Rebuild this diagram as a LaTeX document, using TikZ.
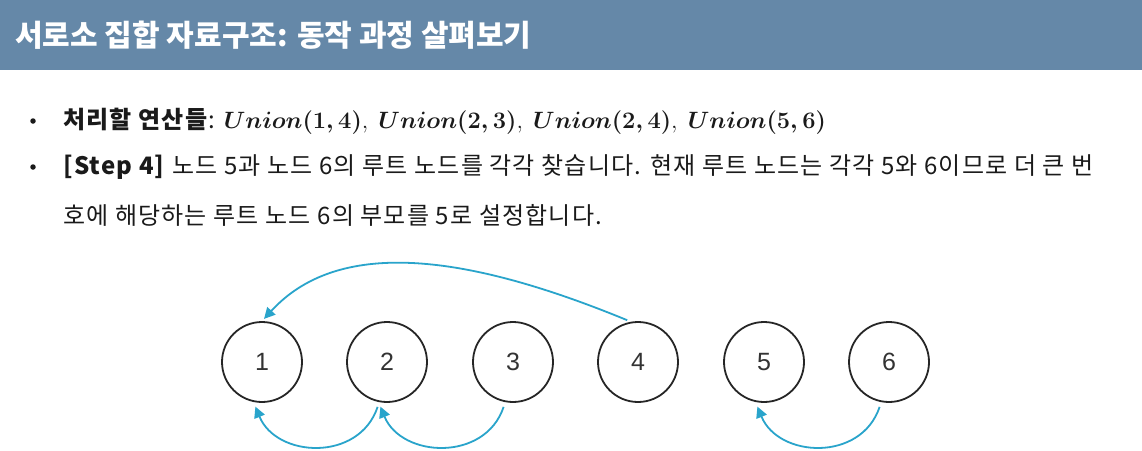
\documentclass[tikz,border=0pt]{standalone}
\usepackage{graphicx}
\usepackage{fontspec}
\usepackage{amsmath}
\setmainfont{Noto Sans CJK KR}
\newfontfamily\numfont{Liberation Sans}
\usetikzlibrary{arrows.meta}
\definecolor{titlebar}{HTML}{6588A8}
\definecolor{arrowblue}{HTML}{29A4CB}
\definecolor{bodytext}{HTML}{1A1A1A}
\begin{document}
\begin{tikzpicture}[x=1pt,y=-1pt,
  bodyline/.style={anchor=west, inner sep=0, text=bodytext, font=\addfontfeature{LetterSpace=5}\fontsize{24}{26}\selectfont},
  bulletdot/.style={circle, fill=bodytext, inner sep=0, minimum size=5.5pt},
  numnode/.style={circle, draw=black!85, line width=1.8pt, minimum size=80pt, inner sep=0,
                  text=black!80, font=\numfont\fontsize{25}{25}\selectfont},
  parentarrow/.style={draw=arrowblue, line width=1.8pt, -{Triangle[length=11pt,width=11pt]}}
]
\useasboundingbox (0,0) rectangle (1142,450);
\fill[white] (0,0) rectangle (1142,450);
\fill[titlebar] (0,0) rectangle (1142,70);
\node[anchor=west, inner sep=0, text=white, font=\bfseries\fontsize{30}{32}\selectfont] (title) at (15,35) {서로소 집합 자료구조: 동작 과정 살펴보기};

\node[bulletdot] (b1) at (33,121) {};
\node[bodyline] (l1) at (63,121) {\textbf{처리할 연산들}: \scalebox{0.95}{\fontsize{24}{26}\selectfont$\boldsymbol{Union(1,4)},\ \boldsymbol{Union(2,3)},\ \boldsymbol{Union(2,4)},\ \boldsymbol{Union(5,6)}$}};
\node[bulletdot] (b2) at (33,167) {};
\node[bodyline] (l2) at (63,167) {\textbf{[Step 4]} 노드 5과 노드 6의 루트 노드를 각각 찾습니다. 현재 루트 노드는 각각 5와 6이므로 더 큰 번};
\node[bodyline] (l3) at (63,215) {호에 해당하는 루트 노드 6의 부모를 5로 설정합니다.};

\node[numnode] (n1) at (262,362) {1};
\node[numnode] (n2) at (387,362) {2};
\node[numnode] (n3) at (513,362) {3};
\node[numnode] (n4) at (638,362) {4};
\node[numnode] (n5) at (764,362) {5};
\node[numnode] (n6) at (889,362) {6};

\draw[parentarrow, shorten <=4pt, shorten >=3pt] (n4.100) .. controls +(-170,-70) and +(75,-82) .. (n1.90);
\draw[parentarrow, shorten <=5pt, shorten >=5pt] (n2.259) .. controls +(-20,60) and +(23,56) .. (n1.258);
\draw[parentarrow, shorten <=5pt, shorten >=5pt] (n3.259) .. controls +(-20,60) and +(23,56) .. (n2.258);
\draw[parentarrow, shorten <=5pt, shorten >=5pt] (n6.259) .. controls +(-20,60) and +(23,56) .. (n5.258);
\end{tikzpicture}
\end{document}
